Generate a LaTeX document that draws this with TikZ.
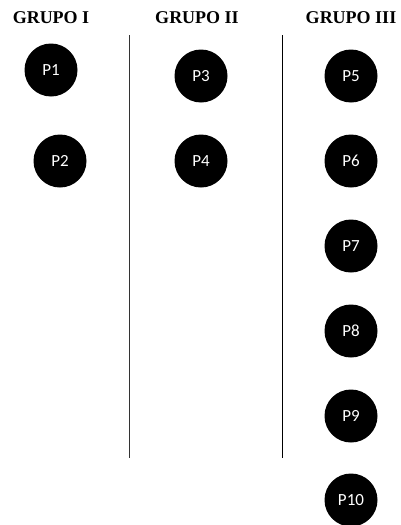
\documentclass[tikz,border=0pt]{standalone}
\usepackage{fontspec}
\setmainfont{Liberation Serif}
\newfontfamily\labelfont{Carlito}
\usepackage{tikz}

\tikzset{
  persona/.style={circle, fill=black, minimum size=53pt, inner sep=0pt,
    text=white, font=\labelfont\fontsize{17}{17}\selectfont},
  grupo/.style={font=\bfseries\fontsize{18}{18}\selectfont}
}

\begin{document}
\begin{tikzpicture}[x=1pt, y=-1pt]
\useasboundingbox (0,0) rectangle (400,525);

    % Headings
    \node[grupo] (g1) at (51,18) {GRUPO I};
    \node[grupo] (g2) at (197,18) {GRUPO II};
    \node[grupo] (g3) at (351,18) {GRUPO III};

    % Dividers
    \draw[line width=0.9pt, black!80] (129,35) -- (129,458);
    \draw[line width=0.9pt] (282,35) -- (282,458);

    % Group I
    \node[persona] (p1) at (51,70) {P1};
    \node[persona] (p2) at (60,161) {P2};

    % Group II
    \node[persona] (p3) at (201,76) {P3};
    \node[persona] (p4) at (201,161) {P4};

    % Group III
    \node[persona] (p5) at (351,76) {P5};
    \node[persona] (p6) at (351,161) {P6};
    \node[persona] (p7) at (351,246) {P7};
    \node[persona] (p8) at (351,331) {P8};
    \node[persona] (p9) at (351,416) {P9};
    \node[persona] (p10) at (351,500) {P10};

\end{tikzpicture}
\end{document}
